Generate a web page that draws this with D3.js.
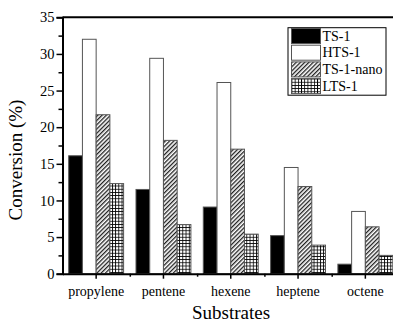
<!DOCTYPE html>
<html>
<head>
<meta charset="utf-8">
<script src="https://cdn.jsdelivr.net/npm/d3@7/dist/d3.min.js"></script>
<style>
  body { margin: 0; background: #fff; }
  svg { display: block; font-family: "Liberation Serif", "Times New Roman", serif; }
</style>
</head>
<body>
<div id="chart"></div>
<script>
var width = 393;
var height = 321;

// data
var substrates = ['propylene', 'pentene', 'hexene', 'heptene', 'octene'];
var catalysts = ['TS-1', 'HTS-1', 'TS-1-nano', 'LTS-1'];
var ts1 = [16.1, 11.5, 9.1, 5.2, 1.3];
var hts1 = [32.0, 29.4, 26.1, 14.5, 8.5];
var ts1nano = [21.7, 18.2, 17.0, 11.9, 6.4];
var lts1 = [12.3, 6.7, 5.4, 3.9, 2.5];
var yTicks = [0, 5, 10, 15, 20, 25, 30, 35];
var yMinor = [2.5, 7.5, 12.5, 17.5, 22.5, 27.5, 32.5];

var seriesValues = [ts1, hts1, ts1nano, lts1];
var fills = ['#000', '#fff', 'url(#hatch)', 'url(#grid)'];

var svg = d3.select('#chart').append('svg')
  .attr('width', width)
  .attr('height', height);

var defs = svg.append('defs');

// diagonal hatch for TS-1-nano
var hatch = defs.append('pattern')
  .attr('id', 'hatch')
  .attr('patternUnits', 'userSpaceOnUse')
  .attr('width', 3)
  .attr('height', 3)
  .attr('patternTransform', 'rotate(45)');
hatch.append('rect').attr('width', 3).attr('height', 3).attr('fill', '#fff');
hatch.append('line')
  .attr('x1', 0.7).attr('y1', 0).attr('x2', 0.7).attr('y2', 3)
  .attr('stroke', '#000').attr('stroke-width', 1.15);

// square grid for LTS-1
var grid = defs.append('pattern')
  .attr('id', 'grid')
  .attr('patternUnits', 'userSpaceOnUse')
  .attr('width', 3.2)
  .attr('height', 3.2);
grid.append('rect').attr('width', 3.2).attr('height', 3.2).attr('fill', '#fff');
grid.append('path')
  .attr('d', 'M0,0.4H3.2M0.4,0V3.2')
  .attr('stroke', '#000').attr('stroke-width', 0.9);

var xLeft = 62.5;
var step = 67.3;

var xScale = d3.scaleBand()
  .domain(substrates)
  .range([xLeft, xLeft + step * substrates.length]);

var xInner = d3.scaleBand()
  .domain(catalysts)
  .range([6.2, step - 6.2]);

var yScale = d3.scaleLinear()
  .domain([0, 35])
  .range([273.7, 17.3]);

// bars
catalysts.forEach(function(c, i) {
  svg.append('g').selectAll('rect')
    .data(seriesValues[i])
    .enter().append('rect')
    .attr('x', function(d, j) { return xScale(substrates[j]) + xInner(c); })
    .attr('y', function(d) { return yScale(d); })
    .attr('width', xInner.bandwidth())
    .attr('height', function(d) { return yScale(0) - yScale(d); })
    .attr('fill', fills[i])
    .attr('stroke', '#555')
    .attr('stroke-width', 1);
});

// top frame
svg.append('line')
  .attr('x1', xLeft).attr('x2', width + 10)
  .attr('y1', yScale(35)).attr('y2', yScale(35))
  .attr('stroke', '#000').attr('stroke-width', 2);

// y axis
var yAxis = svg.append('g')
  .attr('transform', 'translate(' + xLeft + ',0)')
  .call(d3.axisLeft(yScale).tickValues(yTicks).tickSize(6).tickPadding(2));
svg.append('g')
  .attr('transform', 'translate(' + xLeft + ',0)')
  .call(d3.axisLeft(yScale).tickValues(yMinor).tickSize(4).tickFormat(''))
  .select('.domain').remove();

// x axis
var xAxis = svg.append('g')
  .attr('transform', 'translate(0,' + yScale(0) + ')')
  .call(d3.axisBottom(xScale).tickSize(5).tickPadding(7).tickSizeOuter(0));
var xMinor = d3.scaleLinear().domain([0, 5]).range([xLeft, xLeft + step * 5]);
svg.append('g')
  .attr('transform', 'translate(0,' + yScale(0) + ')')
  .call(d3.axisBottom(xMinor).tickValues([1, 2, 3, 4]).tickSize(3).tickFormat(''))
  .select('.domain').remove();

svg.selectAll('.domain').attr('stroke-width', 2).attr('stroke', '#000');
svg.selectAll('.tick line').attr('stroke-width', 1.5).attr('stroke', '#000');
yAxis.selectAll('.tick text')
  .attr('font-size', 14.5).attr('fill', '#000')
  .style('font-family', '"Liberation Serif", serif');
xAxis.selectAll('.tick text')
  .attr('font-size', 14).attr('fill', '#000')
  .style('font-family', '"Liberation Serif", serif');

// axis titles
svg.append('text')
  .attr('transform', 'translate(22,160) rotate(-90)')
  .attr('text-anchor', 'middle')
  .attr('font-size', 19)
  .text('Conversion (%)');

svg.append('text')
  .attr('x', 231)
  .attr('y', 318.5)
  .attr('text-anchor', 'middle')
  .attr('font-size', 19)
  .text('Substrates');

// legend
var legend = svg.append('g').attr('transform', 'translate(288,27.7)');
legend.append('rect')
  .attr('width', 98).attr('height', 67.5)
  .attr('fill', '#fff').attr('stroke', '#000').attr('stroke-width', 1);

var rows = legend.selectAll('.row')
  .data(catalysts)
  .enter().append('g').classed('row', true)
  .attr('transform', function(d, i) { return 'translate(3.5,' + (0.8 + i * 16.7) + ')'; });
rows.append('rect')
  .attr('width', 29).attr('height', 15)
  .attr('fill', function(d, i) { return fills[i]; })
  .attr('stroke', '#555').attr('stroke-width', 1);
rows.append('text')
  .attr('x', 31)
  .attr('y', 12.2)
  .attr('font-size', 14)
  .text(function(d) { return d; });
</script>
</body>
</html>
